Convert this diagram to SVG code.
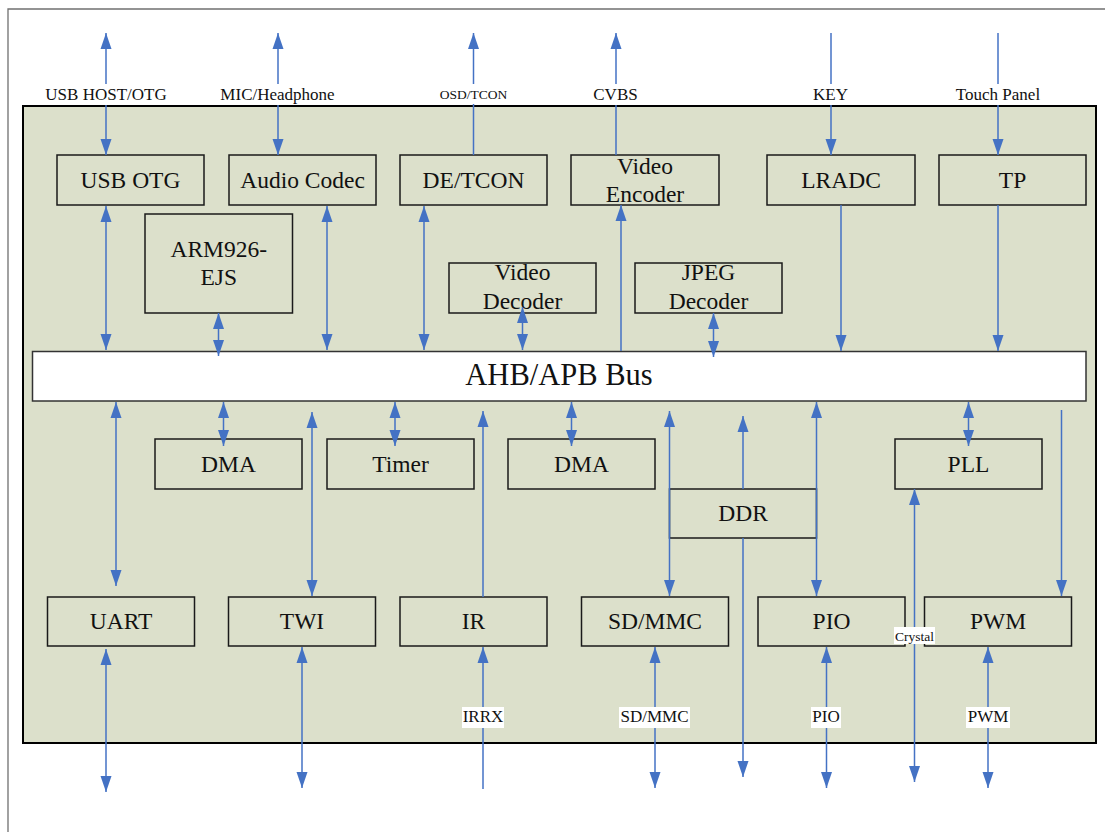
<svg xmlns="http://www.w3.org/2000/svg" width="1105" height="832" viewBox="0 0 1105 832">
<style>
.box{fill:#dce0cb;stroke:#1a1a1a;stroke-width:1.5}
.t{font-family:"Liberation Serif","Times New Roman",serif;font-size:23.5px;fill:#111;text-anchor:middle}
.lbl{font-family:"Liberation Serif","Times New Roman",serif;font-size:17px;fill:#111;text-anchor:middle}
.sm{font-size:13.5px}
.c{stroke:#4472c4;stroke-width:1.5;fill:none}
.b{marker-start:url(#ah);marker-end:url(#ah)}
.e{marker-end:url(#ah)}
.s{marker-start:url(#ah)}
.bg{fill:#fff}
</style>
<defs>
<marker id="ah" markerUnits="userSpaceOnUse" markerWidth="16" markerHeight="12" refX="16" refY="5.5" orient="auto-start-reverse" viewBox="0 0 16 11">
<path d="M0,0 L16,5.5 L0,11 z" fill="#4472c4"/>
</marker>
</defs>
<rect width="1105" height="832" fill="#fff"/>
<path d="M8,832 V9 H1105" fill="none" stroke="#707070" stroke-width="1.3"/>
<rect id="soc" x="23" y="106" width="1073" height="637" fill="#dce0cb" stroke="#000" stroke-width="2"/>
<g id="bus"><rect x="32.5" y="351.5" width="1053.5" height="49.5" fill="#fff" stroke="#333" stroke-width="1.5"/><text x="559" y="385" class="t" style="font-size:30.5px">AHB/APB Bus</text></g>
<g id="usbotg"><rect class="box" x="57" y="155" width="147" height="50"/><text class="t" x="130.5" y="188">USB OTG</text></g>
<g id="audiocodec"><rect class="box" x="229" y="155" width="147" height="50"/><text class="t" x="302.5" y="188">Audio Codec</text></g>
<g id="detcon"><rect class="box" x="400" y="155" width="147" height="50"/><text class="t" x="473.5" y="188">DE/TCON</text></g>
<g id="videoencoder"><rect class="box" x="571" y="155" width="148" height="50"/><text class="t" x="645" y="174">Video</text><text class="t" x="645" y="202">Encoder</text></g>
<g id="lradc"><rect class="box" x="767" y="155" width="148" height="50"/><text class="t" x="841" y="188">LRADC</text></g>
<g id="tp"><rect class="box" x="939" y="155" width="147" height="50"/><text class="t" x="1012.5" y="188">TP</text></g>
<g id="arm"><rect class="box" x="145" y="214" width="147.5" height="99"/><text class="t" x="218.75" y="257">ARM926-</text><text class="t" x="218.75" y="285">EJS</text></g>
<g id="videodecoder"><rect class="box" x="449" y="263" width="147" height="50"/><text class="t" x="522.5" y="280">Video</text><text class="t" x="522.5" y="309">Decoder</text></g>
<g id="jpegdecoder"><rect class="box" x="635" y="263" width="147" height="50"/><text class="t" x="708.5" y="280">JPEG</text><text class="t" x="708.5" y="309">Decoder</text></g>
<g id="dma1"><rect class="box" x="155" y="439" width="147" height="50"/><text class="t" x="228.5" y="472">DMA</text></g>
<g id="timer"><rect class="box" x="327" y="439" width="147" height="50"/><text class="t" x="400.5" y="472">Timer</text></g>
<g id="dma2"><rect class="box" x="508" y="439" width="147" height="50"/><text class="t" x="581.5" y="472">DMA</text></g>
<g id="pll"><rect class="box" x="895" y="439" width="147" height="50"/><text class="t" x="968.5" y="472">PLL</text></g>
<g id="ddr"><rect class="box" x="669.5" y="489" width="147" height="49"/><text class="t" x="743" y="521">DDR</text></g>
<g id="uart"><rect class="box" x="47.5" y="597" width="147" height="49"/><text class="t" x="121" y="629">UART</text></g>
<g id="twi"><rect class="box" x="228.5" y="597" width="147" height="49"/><text class="t" x="302" y="629">TWI</text></g>
<g id="ir"><rect class="box" x="400" y="597" width="147" height="49"/><text class="t" x="473.5" y="629">IR</text></g>
<g id="sdmmc"><rect class="box" x="581.5" y="597" width="147" height="49"/><text class="t" x="655" y="629">SD/MMC</text></g>
<g id="pio"><rect class="box" x="758" y="597" width="147" height="49"/><text class="t" x="831.5" y="629">PIO</text></g>
<g id="pwm"><rect class="box" x="924.5" y="597" width="147" height="49"/><text class="t" x="998" y="629">PWM</text></g>
<g id="connectors">
<line class="c b" x1="106" y1="33" x2="106" y2="155"/>
<line class="c b" x1="278" y1="33" x2="278" y2="155"/>
<line class="c s" x1="473.5" y1="33" x2="473.5" y2="155"/>
<line class="c s" x1="616" y1="33" x2="616" y2="155"/>
<line class="c e" x1="831" y1="33" x2="831" y2="155"/>
<line class="c e" x1="998" y1="33" x2="998" y2="155"/>
<line class="c b" x1="106" y1="206" x2="106" y2="350"/>
<line class="c b" x1="218.5" y1="313" x2="218.5" y2="356"/>
<line class="c b" x1="327" y1="206" x2="327" y2="350"/>
<line class="c b" x1="424" y1="206" x2="424" y2="350"/>
<line class="c b" x1="522.5" y1="307" x2="522.5" y2="350"/>
<line class="c e" x1="621" y1="351" x2="621" y2="205"/>
<line class="c b" x1="713.5" y1="313" x2="713.5" y2="357"/>
<line class="c e" x1="841" y1="205" x2="841" y2="351"/>
<line class="c e" x1="998" y1="205" x2="998" y2="351"/>
<line class="c b" x1="116" y1="402" x2="116" y2="586"/>
<line class="c b" x1="223.5" y1="402" x2="223.5" y2="446"/>
<line class="c b" x1="312" y1="412" x2="312" y2="596"/>
<line class="c b" x1="395" y1="402" x2="395" y2="446"/>
<line class="c e" x1="483" y1="597" x2="483" y2="411"/>
<line class="c b" x1="571.5" y1="402" x2="571.5" y2="446"/>
<line class="c b" x1="669.5" y1="411" x2="669.5" y2="596"/>
<line class="c e" x1="743" y1="489" x2="743" y2="416"/>
<line class="c e" x1="743" y1="538" x2="743" y2="777"/>
<line class="c b" x1="816.5" y1="402" x2="816.5" y2="596"/>
<line class="c b" x1="968.5" y1="402" x2="968.5" y2="446"/>
<line class="c b" x1="914.5" y1="489" x2="914.5" y2="782"/>
<line class="c e" x1="1061.5" y1="410" x2="1061.5" y2="596"/>
<line class="c b" x1="106" y1="649" x2="106" y2="792"/>
<line class="c b" x1="302" y1="647" x2="302" y2="788"/>
<line class="c e" x1="483" y1="789" x2="483" y2="647"/>
<line class="c b" x1="655" y1="647" x2="655" y2="788"/>
<line class="c b" x1="826.5" y1="647" x2="826.5" y2="788"/>
<line class="c b" x1="988" y1="647" x2="988" y2="788"/>
</g>
<g id="labels">
<rect class="bg" x="42" y="84" width="128" height="21"/><text class="lbl" x="106" y="100">USB HOST/OTG</text>
<rect class="bg" x="215" y="84" width="126" height="21"/><text class="lbl" x="277.5" y="100">MIC/Headphone</text>
<rect class="bg" x="437" y="84" width="73" height="20"/><text class="lbl sm" x="473.5" y="99">OSD/TCON</text>
<rect class="bg" x="590" y="84" width="51" height="21"/><text class="lbl" x="615.5" y="100">CVBS</text>
<rect class="bg" x="810" y="84" width="42" height="21"/><text class="lbl" x="830.5" y="100">KEY</text>
<rect class="bg" x="951" y="84" width="94" height="21"/><text class="lbl" x="998" y="100">Touch Panel</text>
<rect class="bg" x="462" y="707" width="42" height="21"/><text class="lbl" x="483" y="722">IRRX</text>
<rect class="bg" x="619" y="707" width="71" height="21"/><text class="lbl" x="654.5" y="722">SD/MMC</text>
<rect class="bg" x="811" y="707" width="30" height="21"/><text class="lbl" x="826" y="722">PIO</text>
<rect class="bg" x="966" y="707" width="44" height="21"/><text class="lbl" x="988" y="722">PWM</text>
<rect class="bg" x="894" y="627" width="41" height="17"/><text class="lbl sm" x="914.5" y="641">Crystal</text>
</g>
</svg>
